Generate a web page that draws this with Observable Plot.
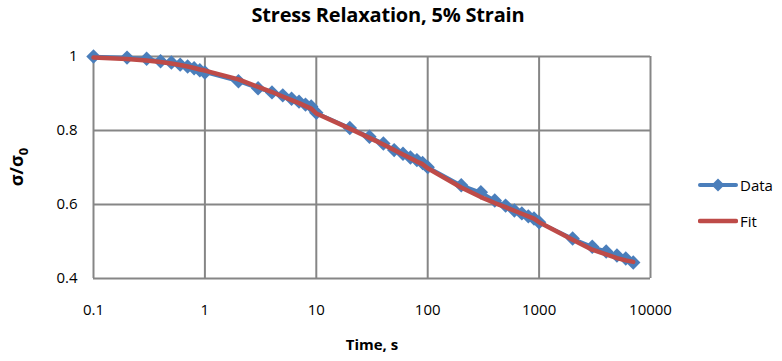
<!DOCTYPE html>
<html>
<head>
<meta charset="utf-8">
<script src="https://cdn.jsdelivr.net/npm/d3@7"></script>
<script src="https://cdn.jsdelivr.net/npm/@observablehq/plot@0.6"></script>
<style>
  body { margin: 0; background: #fff; }
  #wrap { position: relative; width: 782px; height: 361px; font-family: "Open Sans", sans-serif; }
  #title { position: absolute; left: 0; width: 776px; top: 1px; text-align: center; font-weight: bold; font-size: 20px; letter-spacing: -0.2px; color: #000; }
  #ylab { position: absolute; left: 18px; top: 167px; transform: translate(-50%, -50%) rotate(-90deg); font-weight: bold; font-size: 18px; white-space: nowrap; }
  #ylab sub { font-size: 13px; }
  #xlab { position: absolute; left: 0; width: 744px; top: 334px; text-align: center; font-weight: bold; font-size: 15px; }
  .leg { position: absolute; left: 698px; font-size: 15px; display: flex; align-items: center; }
  .leg svg { margin-right: 2px; }
</style>
</head>
<body>
<div id="wrap">
  <div id="title">Stress Relaxation, 5% Strain</div>
  <div id="ylab">σ/σ<sub>0</sub></div>
  <div id="xlab">Time, s</div>
  <div class="leg" style="top:175px"><svg width="40" height="16"><line x1="2" y1="8" x2="38" y2="8" stroke="#4a7ebb" stroke-width="4" stroke-linecap="round"/><path d="M20,1.5 L26.5,8 L20,14.5 L13.5,8 Z" fill="#4a7ebb"/></svg>Data</div>
  <div class="leg" style="top:211px"><svg width="40" height="16"><line x1="2" y1="8" x2="38" y2="8" stroke="#be4b48" stroke-width="4.5" stroke-linecap="round"/></svg>Fit</div>
</div>
<script>
const times = [0.1,0.2,0.3,0.4,0.5,0.6,0.7,0.8,0.9,1,2,3,4,5,6,7,8,9,10,20,30,40,50,60,70,80,90,100,200,300,400,500,600,700,800,900,1000,2000,3000,4000,5000,6000,7000];
const dataVals = [1.0,0.997,0.994,0.987,0.984,0.978,0.973,0.968,0.963,0.957,0.933,0.914,0.903,0.895,0.886,0.878,0.870,0.865,0.848,0.807,0.783,0.765,0.747,0.737,0.727,0.720,0.712,0.701,0.652,0.633,0.611,0.597,0.584,0.576,0.568,0.562,0.552,0.508,0.486,0.473,0.462,0.454,0.443];
const fitVals = [0.997,0.993,0.989,0.985,0.981,0.977,0.973,0.969,0.965,0.962,0.938,0.918,0.904,0.892,0.882,0.874,0.866,0.859,0.846,0.805,0.780,0.762,0.747,0.735,0.725,0.716,0.709,0.698,0.646,0.620,0.604,0.593,0.583,0.575,0.568,0.562,0.552,0.505,0.478,0.465,0.455,0.449,0.445];
const xTicks = [0.1,1,10,100,1000,10000];
const yTicks = [0.4,0.6,0.8,1];

const data = times.map((t,i)=>({t, v: dataVals[i]}));
const fit = times.map((t,i)=>({t, v: fitVals[i]}));

const grid = "#868686";
const chart = Plot.plot({
  width: 782, height: 361,
  marginLeft: 93, marginRight: 132, marginTop: 56, marginBottom: 83,
  style: { fontFamily: "'Open Sans', sans-serif", fontSize: "15px", color: "#000", background: "transparent" },
  x: { type: "log", domain: [0.1, 10000], ticks: xTicks, tickFormat: d => String(d), label: null },
  y: { domain: [0.4, 1], ticks: yTicks, tickFormat: d => String(d), label: null },
  marks: [
    Plot.ruleY(yTicks, { stroke: grid, strokeWidth: 2 }),
    Plot.ruleX(xTicks, { stroke: grid, strokeWidth: 2 }),
    Plot.axisX({ ticks: xTicks, tickFormat: d => String(d), tickSize: 0, tickPadding: 26, label: null, fontSize: 15 }),
    Plot.axisY({ ticks: yTicks, tickFormat: d => String(d), tickSize: 0, tickPadding: 16, label: null, fontSize: 15 }),
    Plot.line(data, { x: "t", y: "v", stroke: "#4a7ebb", strokeWidth: 3.5 }),
    Plot.dot(data, { x: "t", y: "v", symbol: "diamond2", r: 6.5, fill: "#4a7ebb", stroke: "none" }),
    Plot.line(fit, { x: "t", y: "v", stroke: "#be4b48", strokeWidth: 4.5 })
  ]
});
chart.style.position = "absolute";
chart.style.left = "0";
chart.style.top = "0";
document.getElementById("wrap").prepend(chart);
</script>
</body>
</html>
